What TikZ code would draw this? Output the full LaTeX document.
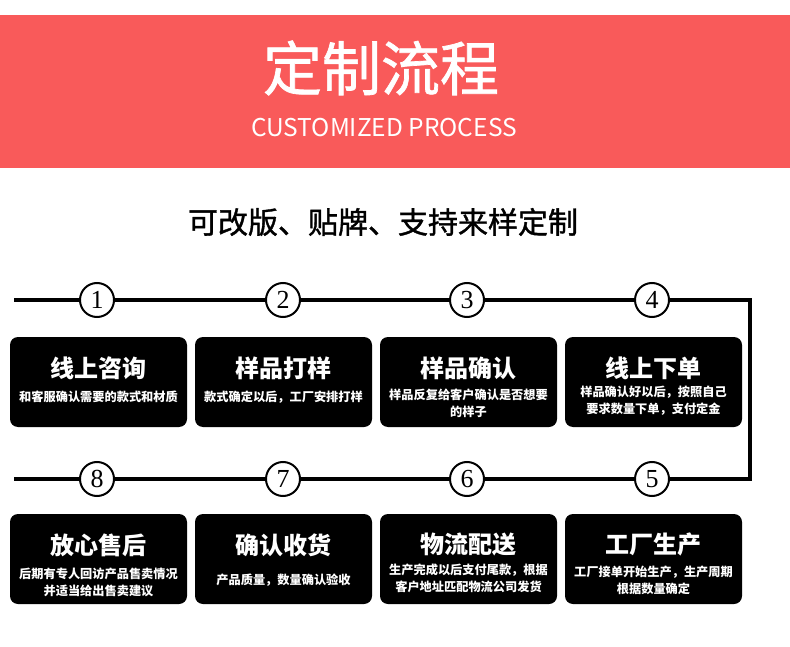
\documentclass[tikz,border=0pt]{standalone}
\usepackage{fontspec}
\newfontfamily\cjk{Noto Sans CJK SC}
\newfontfamily\cjkmed[FakeBold=1.2]{Noto Sans CJK SC}
\newfontfamily\numfont{Liberation Serif}
\definecolor{bandred}{RGB}{249,90,90}
\tikzset{
  stepnum/.style={circle, draw=black, line width=2pt, fill=white, minimum size=34pt, inner sep=0pt, font=\numfont\fontsize{26}{26}\selectfont},
  cardbox/.style={fill=black, rounded corners=8pt},
  cardtitle/.style={text=white, font=\cjk\bfseries\fontsize{24}{24}\selectfont, inner sep=0pt},
  cardsub/.style={text=white, font=\cjk\bfseries\fontsize{12.2}{17}\selectfont, align=center, inner sep=0pt},
  flowline/.style={line width=4pt, line cap=rect}
}
\begin{document}
\begin{tikzpicture}[x=1pt,y=-1pt]
\useasboundingbox (0,0) rectangle (790,647);
\fill[white] (0,0) rectangle (790,647);
\fill[bandred] (0,15) rectangle (790,168);
\node[text=white, font=\cjkmed\fontsize{59}{59}\selectfont, inner sep=0pt] (title) at (381,68) {定制流程};
\node[text=white, font=\cjk\fontsize{24.5}{24.5}\selectfont, inner sep=0pt] (subtitle) at (384,128) {CUSTOMIZED PROCESS};
\node[text=black, font=\cjkmed\fontsize{30}{30}\selectfont, inner sep=0pt] (slogan) at (383,222) {可改版、贴牌、支持来样定制};

% flow line
\coordinate (l1) at (16,300);
\coordinate (c1) at (750,300);
\coordinate (c2) at (750,479);
\coordinate (l2) at (16,479);
\draw[flowline] (l1) -- (c1) -- (c2) -- (l2);

\node[stepnum] (n1) at (97,300) {1};
\node[stepnum] (n2) at (283,300) {2};
\node[stepnum] (n3) at (467,300) {3};
\node[stepnum] (n4) at (652,300) {4};
\node[stepnum] (n8) at (97,479) {8};
\node[stepnum] (n7) at (283,479) {7};
\node[stepnum] (n6) at (467,479) {6};
\node[stepnum] (n5) at (652,479) {5};

% row 1 cards
\fill[cardbox] (10,337) rectangle (187,427);
\fill[cardbox] (195,337) rectangle (372,427);
\fill[cardbox] (380,337) rectangle (557,427);
\fill[cardbox] (565,337) rectangle (742,427);
% row 2 cards
\fill[cardbox] (10,514) rectangle (187,604);
\fill[cardbox] (195,514) rectangle (372,604);
\fill[cardbox] (380,514) rectangle (557,604);
\fill[cardbox] (565,514) rectangle (742,604);

\node[cardtitle] (t1) at (98.5,368) {线上咨询};
\node[cardsub] (s1) at (98.5,397) {和客服确认需要的款式和材质};
\node[cardtitle] (t2) at (283.5,368) {样品打样};
\node[cardsub] (s2) at (283.5,397) {款式确定以后，工厂安排打样};
\node[cardtitle] (t3) at (468.5,368) {样品确认};
\node[cardsub] (s3) at (468.5,403.5) {样品反复给客户确认是否想要\\的样子};
\node[cardtitle] (t4) at (653.5,368) {线上下单};
\node[cardsub] (s4) at (653.5,401) {样品确认好以后，按照自己\\要求数量下单，支付定金};

\node[cardtitle] (t8) at (98.5,545) {放心售后};
\node[cardsub] (s8) at (98.5,582) {后期有专人回访产品售卖情况\\并适当给出售卖建议};
\node[cardtitle] (t7) at (283.5,545) {确认收货};
\node[cardsub] (s7) at (283.5,580) {产品质量，数量确认验收};
\node[cardtitle] (t6) at (468.5,544) {物流配送};
\node[cardsub] (s6) at (468.5,578) {生产完成以后支付尾款，根据\\客户地址匹配物流公司发货};
\node[cardtitle] (t5) at (653.5,544) {工厂生产};
\node[cardsub] (s5) at (653.5,580) {工厂接单开始生产，生产周期\\根据数量确定};
\end{tikzpicture}
\end{document}
